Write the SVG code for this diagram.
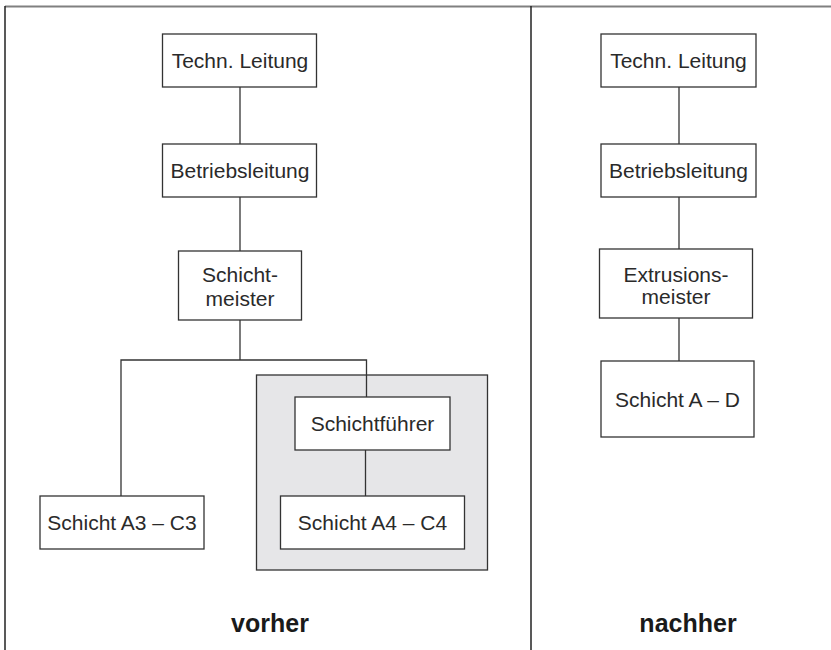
<svg xmlns="http://www.w3.org/2000/svg" width="831" height="650" viewBox="0 0 831 650">
<style>
.box{fill:#fff;stroke:#333;stroke-width:1.3}
.lbl{font-family:"Liberation Sans",Arial,sans-serif;font-size:21px;fill:#2a2a2a;text-anchor:middle}
.title{font-family:"Liberation Sans",Arial,sans-serif;font-size:25px;font-weight:bold;fill:#1a1a1a;text-anchor:middle}
.con{fill:none;stroke:#333;stroke-width:1.3}
.frame{fill:none;stroke:#222;stroke-width:1.5}
</style>
<rect width="831" height="650" fill="#fff"/>
<g id="frame">
<line x1="5" y1="6.5" x2="831" y2="6.5" stroke="#808080" stroke-width="1.8"/>
<line class="frame" x1="5" y1="6" x2="5" y2="650"/>
<line class="frame" x1="531" y1="6" x2="531" y2="650"/>
</g>
<g id="group-shade">
<rect x="256.5" y="375" width="231" height="195" fill="#e6e6e8" stroke="#333" stroke-width="1.3"/>
</g>
<g id="connectors">
<line class="con" x1="240" y1="87" x2="240" y2="144"/>
<line class="con" x1="240" y1="197" x2="240" y2="251"/>
<polyline class="con" points="121,496 121,360 366.5,360 366.5,397"/>
<line class="con" x1="240" y1="320" x2="240" y2="360"/>
<line class="con" x1="365.5" y1="450" x2="365.5" y2="496"/>
<line class="con" x1="679" y1="87" x2="679" y2="144"/>
<line class="con" x1="679" y1="197" x2="679" y2="249"/>
<line class="con" x1="679" y1="318" x2="679" y2="361"/>
</g>
<g id="l-techn">
<rect class="box" x="162.5" y="34" width="154" height="53"/>
<text class="lbl" x="240" y="68">Techn. Leitung</text>
</g>
<g id="l-betrieb">
<rect class="box" x="162.5" y="144" width="154" height="53"/>
<text class="lbl" x="240" y="178">Betriebsleitung</text>
</g>
<g id="l-schichtmeister">
<rect class="box" x="178.5" y="251" width="123" height="69"/>
<text class="lbl" x="240" y="281.5">Schicht-</text>
<text class="lbl" x="240" y="305.5">meister</text>
</g>
<g id="l-a3c3">
<rect class="box" x="40" y="496" width="164" height="53"/>
<text class="lbl" x="122" y="530">Schicht A3 – C3</text>
</g>
<g id="l-schichtfuehrer">
<rect class="box" x="295" y="397" width="155" height="53"/>
<text class="lbl" x="372.5" y="431">Schichtführer</text>
</g>
<g id="l-a4c4">
<rect class="box" x="280.5" y="496" width="184" height="53"/>
<text class="lbl" x="372.5" y="530">Schicht A4 – C4</text>
</g>
<g id="r-techn">
<rect class="box" x="601" y="34" width="155" height="53"/>
<text class="lbl" x="678.5" y="68">Techn. Leitung</text>
</g>
<g id="r-betrieb">
<rect class="box" x="601" y="144" width="155" height="53"/>
<text class="lbl" x="678.5" y="178">Betriebsleitung</text>
</g>
<g id="r-extrusion">
<rect class="box" x="599.5" y="249" width="153" height="69"/>
<text class="lbl" x="676" y="281.5">Extrusions-</text>
<text class="lbl" x="676" y="304">meister</text>
</g>
<g id="r-schicht">
<rect class="box" x="601" y="361" width="153" height="76"/>
<text class="lbl" x="677.5" y="407">Schicht A – D</text>
</g>
<g id="titles">
<text class="title" x="270" y="632">vorher</text>
<text class="title" x="688" y="632">nachher</text>
</g>
</svg>
